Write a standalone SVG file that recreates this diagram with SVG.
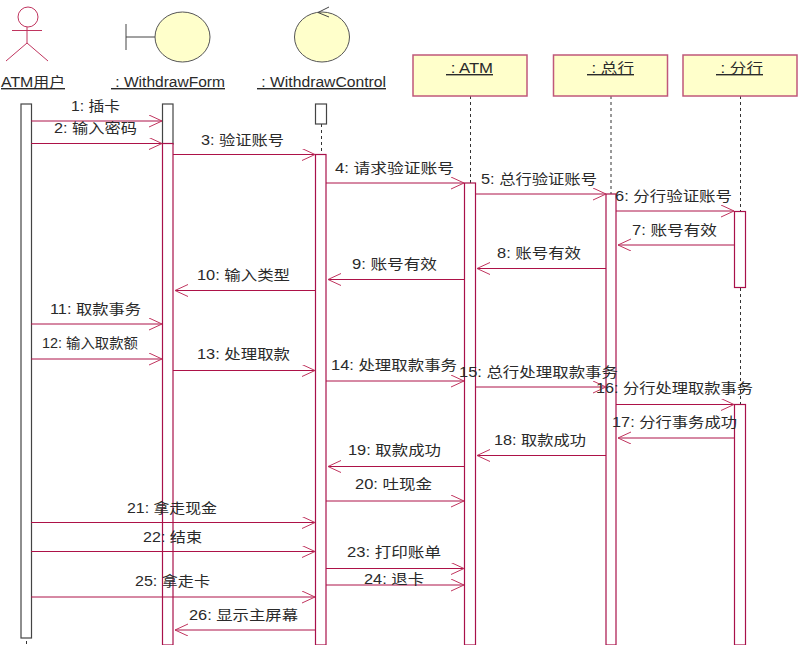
<svg xmlns="http://www.w3.org/2000/svg" width="802" height="645" viewBox="0 0 802 645">
<style>
text{font-family:"Liberation Sans","Noto Sans CJK SC",sans-serif;font-size:14px;fill:#2a2a2a;white-space:pre}
.n{text-decoration:underline}
.box{fill:#ffffcb;stroke:#c0587a;stroke-width:1.5}
.ell{fill:#ffffcb;stroke:#555;stroke-width:1}
.act{fill:#fff;stroke:#a8114a;stroke-width:1.2}
.actg{fill:#fff;stroke:#444;stroke-width:1.2}
.life{stroke:#333;stroke-width:1;stroke-dasharray:3 3;fill:none}
.m{stroke:#ad1248;stroke-width:1;fill:none;marker-end:url(#a)}
.fig{stroke:#c0355f;stroke-width:1;fill:none}
</style>
<defs>
<marker id="a" markerUnits="userSpaceOnUse" markerWidth="16" markerHeight="14" refX="13" refY="6" orient="auto"><path d="M0 0L13 6L0 12" fill="none" stroke="#c0355f" stroke-width="1"/></marker>
</defs>
<g id="lifelines">
<line class="life" x1="26.500" y1="641" x2="26.500" y2="645"/>
<line class="life" x1="321.500" y1="124" x2="321.500" y2="154"/>
<line class="life" x1="470.500" y1="96" x2="470.500" y2="183"/>
<line class="life" x1="611" y1="96" x2="611" y2="194"/>
<line class="life" x1="740.500" y1="96" x2="740.500" y2="404"/>
</g>
<g id="user"><circle class="fig" cx="28" cy="17" r="10"/><path class="fig" d="M27 27V43M12 30.500H42M27 43L6 61M27 43L48 61"/><text class="n" x="1" y="87" textLength="64" lengthAdjust="spacingAndGlyphs">ATM用户</text><rect class="actg" x="21" y="104" width="10.500" height="534"/></g>
<g id="form"><path d="M126 24V50M126 37H155" stroke="#444" fill="none"/><ellipse class="ell" cx="182.500" cy="37" rx="27.500" ry="25"/><text class="n" x="111" y="87" textLength="114" lengthAdjust="spacingAndGlyphs"> : WithdrawForm</text><rect class="actg" x="162.500" y="104" width="10.500" height="40"/><rect class="act" x="162.500" y="143.500" width="10.500" height="501.500"/></g>
<g id="control"><ellipse class="ell" cx="322" cy="37" rx="27.500" ry="25"/><path d="M329 7L318 12.500L329 17" fill="none" stroke="#444"/><text class="n" x="257" y="87" textLength="129" lengthAdjust="spacingAndGlyphs"> : WithdrawControl</text><rect class="actg" x="315.500" y="104" width="11" height="20"/><rect class="act" x="315.500" y="154.500" width="10.500" height="490.500"/></g>
<g id="atm"><rect class="box" x="413" y="55" width="114" height="41"/><text class="n" x="446" y="73" textLength="47" lengthAdjust="spacingAndGlyphs"> : ATM</text><rect class="act" x="464.500" y="183" width="11" height="462"/></g>
<g id="head"><rect class="box" x="553.500" y="55" width="114" height="41"/><text class="n" x="587" y="73" textLength="47" lengthAdjust="spacingAndGlyphs"> : 总行</text><rect class="act" x="606" y="194" width="10" height="451"/></g>
<g id="branch"><rect class="box" x="683" y="55" width="114" height="41"/><text class="n" x="716" y="73" textLength="47" lengthAdjust="spacingAndGlyphs"> : 分行</text><rect class="act" x="734.500" y="211.500" width="11" height="76"/><rect class="act" x="734.500" y="404.500" width="11" height="240.500"/></g>
<g id="connectors">
<line class="m" x1="31" y1="121" x2="162" y2="121"/>
<line class="m" x1="31" y1="143.500" x2="162" y2="143.500"/>
<line class="m" x1="173" y1="154.500" x2="315" y2="154.500"/>
<line class="m" x1="326" y1="183" x2="464" y2="183"/>
<line class="m" x1="475" y1="194" x2="606" y2="194"/>
<line class="m" x1="616" y1="211" x2="734" y2="211"/>
<line class="m" x1="735" y1="245" x2="618" y2="245"/>
<line class="m" x1="606" y1="268.500" x2="477" y2="268.500"/>
<line class="m" x1="464" y1="279.500" x2="328" y2="279.500"/>
<line class="m" x1="315" y1="290.500" x2="175" y2="290.500"/>
<line class="m" x1="31" y1="324" x2="162" y2="324"/>
<line class="m" x1="31" y1="359" x2="162" y2="359"/>
<line class="m" x1="173" y1="370.500" x2="315" y2="370.500"/>
<line class="m" x1="326" y1="381" x2="464" y2="381"/>
<line class="m" x1="475" y1="387" x2="606" y2="387"/>
<line class="m" x1="616" y1="404.500" x2="734" y2="404.500"/>
<line class="m" x1="735" y1="438" x2="618" y2="438"/>
<line class="m" x1="606" y1="455.500" x2="477" y2="455.500"/>
<line class="m" x1="464" y1="466.500" x2="328" y2="466.500"/>
<line class="m" x1="326" y1="501" x2="464" y2="501"/>
<line class="m" x1="31" y1="522.500" x2="315" y2="522.500"/>
<line class="m" x1="31" y1="551.500" x2="315" y2="551.500"/>
<line class="m" x1="326" y1="568.500" x2="464" y2="568.500"/>
<line class="m" x1="326" y1="585" x2="464" y2="585"/>
<line class="m" x1="31" y1="597" x2="315" y2="597"/>
<line class="m" x1="315" y1="630" x2="175" y2="630"/>
</g>
<g id="labels">
<text x="71" y="111" textLength="49" lengthAdjust="spacingAndGlyphs">1: 插卡</text>
<text x="54" y="133" textLength="83" lengthAdjust="spacingAndGlyphs">2: 输入密码</text>
<text x="201" y="145" textLength="83" lengthAdjust="spacingAndGlyphs">3: 验证账号</text>
<text x="335" y="173" textLength="119" lengthAdjust="spacingAndGlyphs">4: 请求验证账号</text>
<text x="481" y="184" textLength="116" lengthAdjust="spacingAndGlyphs">5: 总行验证账号</text>
<text x="615" y="201" textLength="117" lengthAdjust="spacingAndGlyphs">6: 分行验证账号</text>
<text x="632" y="235" textLength="85" lengthAdjust="spacingAndGlyphs">7: 账号有效</text>
<text x="497" y="258" textLength="84" lengthAdjust="spacingAndGlyphs">8: 账号有效</text>
<text x="352" y="269" textLength="85" lengthAdjust="spacingAndGlyphs">9: 账号有效</text>
<text x="197" y="280" textLength="93" lengthAdjust="spacingAndGlyphs">10: 输入类型</text>
<text x="50" y="314" textLength="91" lengthAdjust="spacingAndGlyphs">11: 取款事务</text>
<text x="42" y="348" textLength="96" lengthAdjust="spacingAndGlyphs">12: 输入取款额</text>
<text x="197" y="359" textLength="93" lengthAdjust="spacingAndGlyphs">13: 处理取款</text>
<text x="331" y="370" textLength="126" lengthAdjust="spacingAndGlyphs">14: 处理取款事务</text>
<text x="459" y="377" textLength="159" lengthAdjust="spacingAndGlyphs">15: 总行处理取款事务</text>
<text x="596" y="393" textLength="157" lengthAdjust="spacingAndGlyphs">16: 分行处理取款事务</text>
<text x="612" y="427" textLength="125" lengthAdjust="spacingAndGlyphs">17: 分行事务成功</text>
<text x="494" y="445" textLength="92" lengthAdjust="spacingAndGlyphs">18: 取款成功</text>
<text x="348" y="455" textLength="93" lengthAdjust="spacingAndGlyphs">19: 取款成功</text>
<text x="355" y="489" textLength="77" lengthAdjust="spacingAndGlyphs">20: 吐现金</text>
<text x="127" y="513" textLength="90" lengthAdjust="spacingAndGlyphs">21: 拿走现金</text>
<text x="143" y="542" textLength="59" lengthAdjust="spacingAndGlyphs">22: 结束</text>
<text x="347" y="557" textLength="94" lengthAdjust="spacingAndGlyphs">23: 打印账单</text>
<text x="364" y="584" textLength="60" lengthAdjust="spacingAndGlyphs">24: 退卡</text>
<text x="135" y="586" textLength="75" lengthAdjust="spacingAndGlyphs">25: 拿走卡</text>
<text x="189" y="620" textLength="109" lengthAdjust="spacingAndGlyphs">26: 显示主屏幕</text>
</g>
</svg>
